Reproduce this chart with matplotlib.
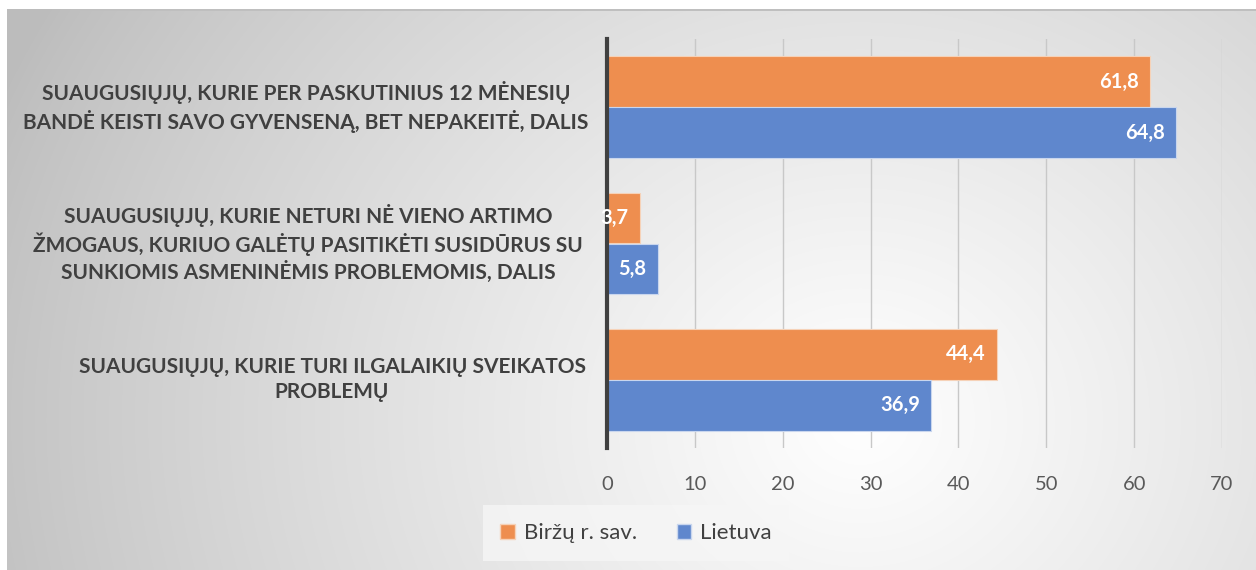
import numpy as np
import matplotlib
matplotlib.use("Agg")
import matplotlib.pyplot as plt
from matplotlib.patches import Patch

categories = [
    "SUAUGUSIŲJŲ, KURIE PER PASKUTINIUS 12 MĖNESIŲ\nBANDĖ KEISTI SAVO GYVENSENĄ, BET NEPAKEITĖ, DALIS",
    "SUAUGUSIŲJŲ, KURIE NETURI NĖ VIENO ARTIMO\nŽMOGAUS, KURIUO GALĖTŲ PASITIKĖTI SUSIDŪRUS SU\nSUNKIOMIS ASMENINĖMIS PROBLEMOMIS, DALIS",
    "SUAUGUSIŲJŲ, KURIE TURI ILGALAIKIŲ SVEIKATOS\nPROBLEMŲ",
]
birzai = [61.8, 3.7, 44.4]
lietuva = [64.8, 5.8, 36.9]
series_names = ["Biržų r. sav.", "Lietuva"]
xticks = [0, 10, 20, 30, 40, 50, 60, 70]

ORANGE = "#EE8E4F"
BLUE = "#5F87CD"
TEXT = "#404040"

plt.rcParams["font.family"] = ["Lato", "DejaVu Sans"]

W, H = 1256, 570
fig = plt.figure(figsize=(W / 100, H / 100), dpi=100)

# radial grey background (Excel style) with white strip at top/left
bg = fig.add_axes([0, 0, 1, 1])
bg.set_axis_off()
yy, xx = np.mgrid[0:H, 0:W]
d = np.hypot((xx - 860) / 1.0, (yy - 420) / 0.9)
v = np.clip(1 - d / 930, 0, 1) ** 0.85
shade = 0.74 + (1.0 - 0.74) * v
img = np.dstack([shade, shade, shade])
img[:9, :, :] = 1.0
img[:, :7, :] = 1.0
img[9:11, 7:, :] = np.minimum(img[9:11, 7:, :], 0.75)
bg.imshow(img, extent=[0, W, H, 0], aspect="auto", interpolation="bilinear")
bg.set_xlim(0, W)
bg.set_ylim(H, 0)

ax = fig.add_axes([607 / W, (H - 448) / H, (1222 - 607) / W, (448 - 39) / H])
ax.patch.set_alpha(0)

y = np.arange(len(categories))
h = 0.37
off = 0.187
b1 = ax.barh(y - off, birzai, height=h, color=ORANGE, edgecolor="#F6D2B8", linewidth=0.8, zorder=2)
b2 = ax.barh(y + off, lietuva, height=h, color=BLUE, edgecolor="#C9D6EE", linewidth=0.8, zorder=2)

ax.set_xlim(0, 70)
ax.set_ylim(len(categories) - 0.5, -0.5)
ax.set_xticks(xticks)
ax.set_xticklabels([str(t) for t in xticks], fontsize=14.5, color="#595959")
ax.tick_params(axis="x", length=0, pad=20)
ax.set_yticks([])
ax.grid(axis="x", color="#C8C8C8", linewidth=1, zorder=0)
for s in ["top", "right", "bottom"]:
    ax.spines[s].set_visible(False)
ax.spines["left"].set_color("#404040")
ax.spines["left"].set_linewidth(3)
ax.spines["left"].set_zorder(3)

for bars in (b1, b2):
    for rect in bars:
        val = rect.get_width()
        ax.text(val - 1.3, rect.get_y() + rect.get_height() / 2,
                f"{val:.1f}".replace(".", ","), ha="right", va="center",
                color="white", fontsize=14.5, fontweight="bold", zorder=4)

# label centres (pixels left of the axis)
label_dx = [301, 299, 275]
for i, lab in enumerate(categories):
    ax.text(-label_dx[i] / 8.786, i, lab, ha="center", va="center", multialignment="center",
            fontsize=15, fontweight="bold", color=TEXT, linespacing=1.3,
            transform=ax.transData, clip_on=False)

handles = [Patch(facecolor=ORANGE, edgecolor="#F6D2B8"), Patch(facecolor=BLUE, edgecolor="#C9D6EE")]
leg = fig.legend(handles, series_names, loc="center", bbox_to_anchor=(636 / W, (H - 533) / H),
                 ncol=2, frameon=True, fontsize=16, handlelength=0.65, handleheight=0.65,
                 handletextpad=0.4, columnspacing=1.8, borderpad=0.8, fancybox=False)
leg.get_frame().set_facecolor("#F6F6F6")
leg.get_frame().set_edgecolor("none")
for t in leg.get_texts():
    t.set_color(TEXT)

fig.savefig("out.png", dpi=100)
